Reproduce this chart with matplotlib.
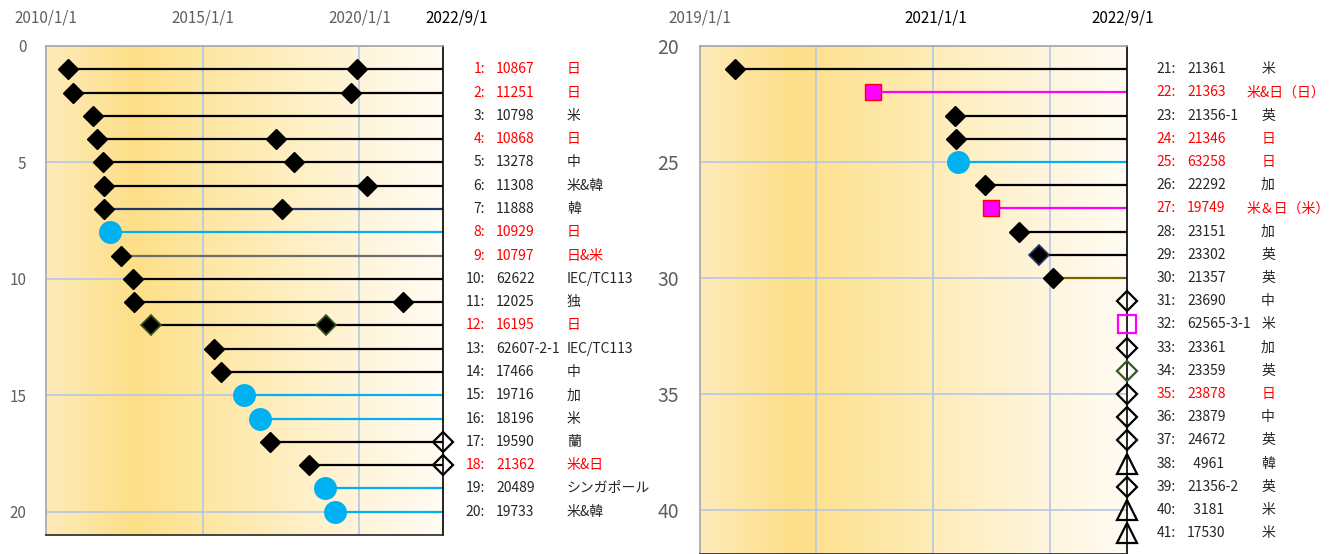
import matplotlib.pyplot as plt
import matplotlib.dates as mdates
import numpy as np
from matplotlib.colors import LinearSegmentedColormap
from matplotlib.transforms import offset_copy

plt.rcParams['font.family'] = ['Noto Sans CJK JP', 'DejaVu Sans']

END = '2022-09-01'

# --- data ---------------------------------------------------------------
ids = list(range(1, 42))
codes = ['10867', '11251', '10798', '10868', '13278', '11308', '11888', '10929',
         '10797', '62622', '12025', '16195', '62607-2-1', '17466', '19716',
         '18196', '19590', '21362', '20489', '19733',
         '21361', '21363', '21356-1', '21346', '63258', '22292', '19749',
         '23151', '23302', '21357', '23690', '62565-3-1', '23361', '23359',
         '23878', '23879', '24672', '  4961', '21356-2', '  3181', '17530']
countries = ['日', '日', '米', '日', '中', '米&韓', '韓', '日', '日&米', 'IEC/TC113',
             '独', '日', 'IEC/TC113', '中', '加', '米', '蘭', '米&日', 'シンガポール', '米&韓',
             '米', '米&日（日）', '英', '日', '日', '加', '米＆日（米）', '加', '英', '英',
             '中', '米', '加', '英', '日', '中', '英', '韓', '英', '米', '米']
japan = [1, 1, 0, 1, 0, 0, 0, 1, 1, 0, 0, 1, 0, 0, 0, 0, 0, 1, 0, 0,
         0, 1, 0, 1, 1, 0, 1, 0, 0, 0, 0, 0, 0, 0, 1, 0, 0, 0, 0, 0, 0]
first_dates = ['2010-09-16', '2010-11-17', '2011-07-08', '2011-08-14', '2011-10-30',
               '2011-11-06', '2011-11-06', '2012-01-15', '2012-05-27', '2012-10-05',
               '2012-10-23', '2013-05-05', '2015-05-18', '2015-07-31', '2016-04-22',
               '2016-11-03', '2017-02-24', '2018-05-22', '2018-12-01', '2019-03-18',
               '2019-04-20', '2020-06-25', '2021-03-10', '2021-03-14', '2021-03-21',
               '2021-06-13', '2021-07-02', '2021-09-27', '2021-11-28', '2022-01-12'] + [END] * 11
second_dates = ['2019-12-01', '2019-09-20', None, '2017-05-08', '2017-11-28',
                '2020-03-28', '2017-07-08', None, None, None,
                '2021-05-19', '2018-12-05'] + [None] * 29

# --- styles -------------------------------------------------------------
first_kind = (['D'] * 7 + ['o', 'D', 'D', 'D', 'Dg', 'D', 'D', 'o', 'o', 'D', 'D', 'o', 'o']
              + ['D', 's', 'D', 'D', 'o', 'D', 's', 'D', 'Dn', 'D']
              + ['od', 'os', 'od', 'odg', 'od', 'od', 'od', 'ot', 'od', 'ot', 'ot'])
end_kind = [None] * 16 + ['od', 'od'] + [None] * 23
line_kind = (['k'] * 6 + ['navy', 'c', 'gray', 'k', 'k', 'k', 'k', 'k', 'c', 'c', 'k', 'k', 'c', 'c']
             + ['k', 'm', 'k', 'k', 'c', 'k', 'm', 'k', 'k', 'olive'] + [None] * 11)

line_colors = {'k': 'black', 'navy': '#203864', 'c': '#00B0F0', 'gray': '#6E6E6E',
               'm': '#FF00FF', 'olive': '#7F6000'}
markers = {
    'D': dict(marker='D', ms=10.5, mfc='black', mec='black', mew=1),
    'Dg': dict(marker='D', ms=10.5, mfc='black', mec='#385723', mew=1.2),
    'Dn': dict(marker='D', ms=10.5, mfc='black', mec='#203864', mew=1.2),
    'o': dict(marker='o', ms=15.5, mfc='#00B0F0', mec='#00B0F0', mew=1),
    's': dict(marker='s', ms=12, mfc='#FF00FF', mec='#FF0000', mew=1),
    'od': dict(marker='D', ms=10, mfc='none', mec='black', mew=1.6),
    'odg': dict(marker='D', ms=10, mfc='none', mec='#375623', mew=1.6),
    'os': dict(marker='s', ms=12.5, mfc='none', mec='#FF00FF', mew=1.6),
    'ot': dict(marker='^', ms=14, mfc='none', mec='black', mew=1.6),
}

bg = LinearSegmentedColormap.from_list('bg', [
    (0.0, '#FEEBBA'), (0.22, '#FDDF88'), (0.4, '#FEE7A2'), (0.6, '#FEEEBF'),
    (0.8, '#FFF5DC'), (1.0, '#FFFCF3')])

GRID = '#B4C7E7'
TICK_GRAY = '#5F5F5F'
TXT = '#262626'
RED = '#FF0000'
FS = 10


def d(s):
    return mdates.datestr2num(s)


def shifted(ax, px):
    # y in data, x at the right edge of the axes plus a pixel offset
    return offset_copy(ax.get_yaxis_transform(), fig=ax.figure, x=px * 0.72, units='points')


def draw_panel(ax, rows, ylim, start, grid_years, top_labels, ytick_size, lab_dx):
    ax.imshow(np.linspace(0, 1, 256)[None, :], cmap=bg, aspect='auto',
              extent=[0, 1, 0, 1], transform=ax.transAxes, zorder=0)
    ax.set_xlim(d(start), d(END))
    ax.set_ylim(*ylim)

    ax.set_xticks([d(f'{y}-01-01') for y in grid_years], minor=True)
    ax.set_xticks([])
    yt = np.arange(np.ceil(ylim[1] / 5) * 5, ylim[0], 5)
    ax.set_yticks(yt)
    ax.set_yticklabels([str(int(v)) for v in yt])
    ax.grid(which='minor', axis='x', color=GRID, lw=1.2)
    ax.grid(which='major', axis='y', color=GRID, lw=1.2)
    ax.set_axisbelow(True)
    ax.tick_params(which='both', length=0)
    ax.tick_params(axis='y', pad=14, labelsize=ytick_size, labelcolor=TICK_GRAY)

    for side, col in [('left', '#A6A6A6'), ('top', '#A6A6A6'),
                      ('right', 'black'), ('bottom', '#262626')]:
        ax.spines[side].set_color(col)
        ax.spines[side].set_linewidth(1.2)

    # top date labels
    for text, date, color, dx in top_labels:
        tr = offset_copy(ax.get_xaxis_transform(), fig=ax.figure, x=dx * 0.72,
                         y=28 * 0.72, units='points')
        ax.text(d(date), 1, text, transform=tr, ha='center', va='center',
                fontsize=11, color=color)

    num_x, code_x, country_x, single_x = lab_dx
    for i in rows:
        y = ids[i]
        x0 = d(first_dates[i])
        if line_kind[i]:
            ax.plot([x0, d(END)], [y, y], color=line_colors[line_kind[i]], lw=1.6,
                    zorder=2, solid_capstyle='butt')
        ax.plot([x0], [y], ls='none', zorder=3, clip_on=False, **markers[first_kind[i]])
        if second_dates[i]:
            ax.plot([d(second_dates[i])], [y], ls='none', zorder=3, **markers[first_kind[i]])
        if end_kind[i]:
            ax.plot([d(END)], [y], ls='none', zorder=3, clip_on=False, **markers[end_kind[i]])

        # label columns to the right
        color = RED if japan[i] else TXT
        ax.text(1, y, f'{ids[i]}:', ha='right', va='center', fontsize=FS, color=color,
                transform=shifted(ax, num_x))
        ax.text(1, y, codes[i], ha='left', va='center', fontsize=FS, color=color,
                transform=shifted(ax, code_x))
        c = countries[i]
        if len(c) == 1 and single_x:
            ax.text(1, y, c, ha='center', va='center', fontsize=FS, color=color,
                    transform=shifted(ax, single_x))
        else:
            ax.text(1, y, c, ha='left', va='center', fontsize=FS, color=color,
                    transform=shifted(ax, country_x))


fig = plt.figure(figsize=(13.33, 5.54), dpi=100)
ax_l = fig.add_axes([46 / 1333, 19 / 554, 397 / 1333, 489 / 554])
ax_r = fig.add_axes([700 / 1333, 0, 427 / 1333, 508 / 554])

draw_panel(ax_l, range(0, 20), (21, 0), '2010-01-01', [2015, 2020],
           [('2010/1/1', '2010-01-01', TICK_GRAY, 0), ('2015/1/1', '2015-01-01', TICK_GRAY, 0),
            ('2020/1/1', '2020-01-01', TICK_GRAY, 0), ('2022/9/1', END, 'black', 14)],
           11, (42, 53, 124, None))
draw_panel(ax_r, range(20, 41), (41.9, 20), '2019-01-01', [2020, 2021, 2022],
           [('2019/1/1', '2019-01-01', TICK_GRAY, 0), ('2021/1/1', '2021-01-01', 'black', 3),
            ('2022/9/1', END, 'black', -4)],
           14, (49, 60, 120, 141))
ax_l.tick_params(axis='y', pad=14)
ax_r.tick_params(axis='y', pad=15)

fig.savefig('out.png', dpi=100)
